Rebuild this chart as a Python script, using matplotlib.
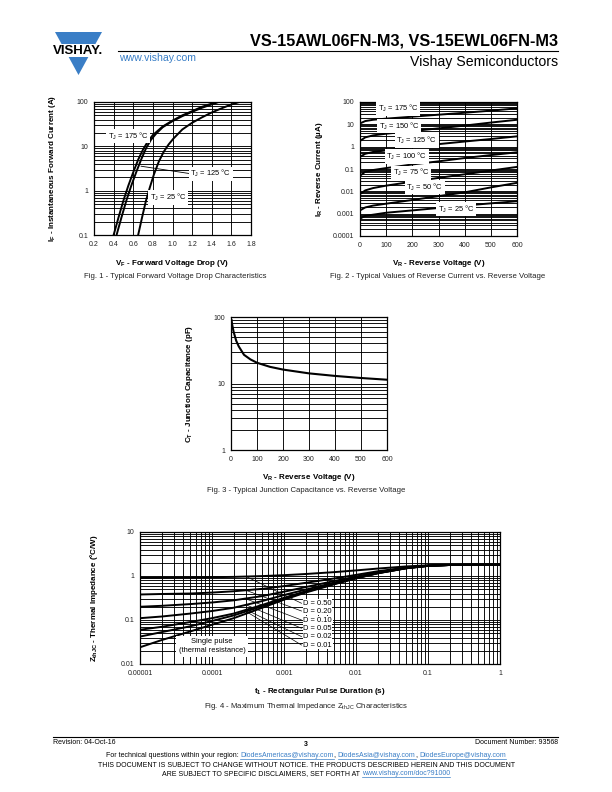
import matplotlib
matplotlib.use('Agg')
import numpy as np
import matplotlib.pyplot as plt
from matplotlib.ticker import LogLocator, FixedLocator, NullFormatter
from matplotlib.patches import Polygon, Rectangle
from matplotlib.lines import Line2D

plt.rcParams['font.family'] = ['Liberation Sans', 'DejaVu Sans']
plt.rcParams['mathtext.default'] = 'regular'

# ---- Fig. 1 forward voltage drop ----
vf_175 = [0.40, 0.45, 0.50, 0.55, 0.60, 0.65, 0.70, 0.75, 0.80, 0.90, 1.00, 1.10, 1.20, 1.30, 1.45]
if_175 = [0.1, 0.25, 0.6, 1.3, 2.6, 5.0, 8.5, 13, 18, 28, 38, 50, 62, 78, 100]
vf_125 = [0.43, 0.48, 0.53, 0.58, 0.63, 0.68, 0.73, 0.78, 0.83, 0.90, 1.00, 1.10, 1.20, 1.30, 1.47]
if_125 = [0.1, 0.25, 0.6, 1.3, 2.6, 5.0, 9.0, 14, 19, 27, 37, 48, 60, 74, 100]
vf_25 = [0.65, 0.69, 0.73, 0.77, 0.81, 0.86, 0.91, 0.96, 1.01, 1.10, 1.20, 1.30, 1.40, 1.50, 1.60, 1.68]
if_25 = [0.1, 0.25, 0.6, 1.2, 2.3, 4.5, 7.5, 11, 15, 24, 34, 45, 58, 72, 88, 100]

# ---- Fig. 2 reverse current ----
vr = [0, 20, 50, 100, 200, 300, 400, 500, 600]
ir = {
    '175': [11, 14, 16, 18, 22, 27, 33, 41, 52],
    '150': [1.8, 2.6, 3.2, 3.8, 5.0, 6.6, 8.8, 12, 16],
    '125': [0.35, 0.48, 0.58, 0.68, 0.95, 1.3, 1.7, 2.2, 2.9],
    '100': [0.05, 0.075, 0.09, 0.11, 0.16, 0.22, 0.31, 0.42, 0.56],
    '75': [0.0075, 0.011, 0.014, 0.018, 0.027, 0.040, 0.058, 0.085, 0.124],
    '50': [0.0014, 0.0019, 0.0023, 0.0028, 0.0041, 0.0061, 0.009, 0.015, 0.024],
    '25': [0.0006, 0.0008, 0.0009, 0.0011, 0.0014, 0.0018, 0.0023, 0.0029, 0.0036],
}
ir_label_pos = {'175': (69, 50), '150': (72, 8.5), '125': (139, 1.9), '100': (101, 0.37),
                '75': (126, 0.067), '50': (177, 0.0155), '25': (297, 0.0016)}

# ---- Fig. 3 junction capacitance ----
vr_c = [2, 5, 10, 20, 30, 50, 75, 100, 150, 200, 300, 400, 500, 600]
ct = [90, 75, 60, 44, 36, 27, 23, 20.5, 17.8, 16.2, 14.2, 13.0, 12.1, 11.4]

# ---- Fig. 4 thermal impedance ----
t1 = [1e-5, 2e-5, 5e-5, 1e-4, 2e-4, 5e-4, 1e-3, 2e-3, 5e-3, 1e-2, 2e-2, 5e-2, 0.1, 0.2, 0.5, 1]
zth = {
    '0.50': [0.91, 0.92, 0.93, 0.94, 0.955, 0.995, 1.045, 1.11, 1.225, 1.34, 1.475, 1.65, 1.75, 1.79, 1.8, 1.8],
    '0.20': [0.38, 0.39, 0.40, 0.42, 0.45, 0.51, 0.59, 0.70, 0.88, 1.06, 1.28, 1.56, 1.72, 1.78, 1.8, 1.8],
    '0.10': [0.20, 0.21, 0.23, 0.25, 0.28, 0.35, 0.44, 0.56, 0.77, 0.97, 1.22, 1.53, 1.71, 1.78, 1.8, 1.8],
    '0.05': [0.11, 0.12, 0.14, 0.16, 0.19, 0.27, 0.37, 0.49, 0.71, 0.93, 1.18, 1.52, 1.70, 1.78, 1.8, 1.8],
    '0.02': [0.06, 0.07, 0.09, 0.11, 0.14, 0.22, 0.32, 0.45, 0.67, 0.90, 1.16, 1.51, 1.70, 1.78, 1.8, 1.8],
    '0.01': [0.042, 0.053, 0.072, 0.095, 0.127, 0.206, 0.305, 0.434, 0.66, 0.89, 1.16, 1.50, 1.70, 1.78, 1.8, 1.8],
    'single': [0.024, 0.035, 0.055, 0.078, 0.11, 0.19, 0.29, 0.42, 0.65, 0.88, 1.15, 1.50, 1.70, 1.78, 1.8, 1.8],
}
d_labels = ['0.50', '0.20', '0.10', '0.05', '0.02', '0.01']
d_label_y = [0.24, 0.16, 0.10, 0.065, 0.042, 0.027]
d_leader_y = [0.97, 0.47, 0.30, 0.22, 0.17, 0.155]

W, H = 612, 792
fig = plt.figure(figsize=(W / 100, H / 100), dpi=100)
blue = '#3a7ec6'
GLW = 0.65
TICK = 5.0
LAB = 5.8


def px_axes(l, t, r, b):
    return fig.add_axes([l / W, 1 - b / H, (r - l) / W, (b - t) / H])


def style(ax, xlog=False):
    ax.set_yscale('log')
    if xlog:
        ax.set_xscale('log')
        ax.xaxis.set_minor_locator(LogLocator(base=10, subs=range(2, 10), numticks=20))
        ax.xaxis.set_minor_formatter(NullFormatter())
    ax.yaxis.set_minor_locator(LogLocator(base=10, subs=range(2, 10), numticks=20))
    ax.yaxis.set_minor_formatter(NullFormatter())
    ax.grid(True, which='major', color='black', lw=GLW)
    ax.grid(True, which='minor', axis='y', color='black', lw=GLW)
    if xlog:
        ax.grid(True, which='minor', axis='x', color='black', lw=GLW)
    ax.tick_params(which='both', length=0, labelsize=TICK, pad=4, colors='#222222')
    for s in ax.spines.values():
        s.set_linewidth(0.9)
    ax.set_axisbelow(True)


def tj_label(ax, x, y, s):
    ax.text(x, y, 'T$_J$ = ' + s + ' °C', fontsize=5.4, va='center', ha='left', zorder=6,
            bbox=dict(facecolor='white', edgecolor='none', pad=1.2))


# ---------------- Fig. 1 ----------------
ax1 = px_axes(94, 102, 251, 235)
style(ax1)
ax1.plot(vf_175, if_175, color='black', lw=1.4, zorder=4)
ax1.plot(vf_125, if_125, color='black', lw=1.4, zorder=4)
ax1.plot(vf_25, if_25, color='black', lw=1.4, zorder=4)
ax1.set_xlim(0.2, 1.8)
ax1.set_ylim(0.1, 100)
ax1.set_xticks([0.2, 0.4, 0.6, 0.8, 1.0, 1.2, 1.4, 1.6, 1.8])
ax1.set_xticklabels(['0.2', '0.4', '0.6', '0.8', '1.0', '1.2', '1.4', '1.6', '1.8'])
ax1.yaxis.set_major_locator(FixedLocator([0.1, 1, 10, 100]))
ax1.set_yticklabels(['0.1', '1', '10', '100'])
tj_label(ax1, 0.34, 17, '175')
tj_label(ax1, 1.18, 2.4, '125')
tj_label(ax1, 0.77, 0.71, '25')
ax1.plot([0.68, 1.17], [3.56, 2.44], color='black', lw=0.6, zorder=5)
ax1.set_xlabel('V$_F$ - Forward Voltage Drop (V)', fontsize=LAB, fontweight='bold')
ax1.set_ylabel('I$_F$ - Instantaneous Forward Current (A)', fontsize=LAB, fontweight='bold')
ax1.xaxis.set_label_coords(0.5, -0.17)
ax1.yaxis.set_label_coords(-0.23, 0.5)

# ---------------- Fig. 2 ----------------
ax2 = px_axes(360, 102, 517, 236)
style(ax2)
for k, vals in ir.items():
    ax2.plot(vr, vals, color='black', lw=1.4, zorder=4)
    tj_label(ax2, ir_label_pos[k][0], ir_label_pos[k][1], k)
ax2.set_xlim(0, 600)
ax2.set_ylim(0.0001, 100)
ax2.set_xticks([0, 100, 200, 300, 400, 500, 600])
ax2.yaxis.set_major_locator(FixedLocator([0.0001, 0.001, 0.01, 0.1, 1, 10, 100]))
ax2.set_yticklabels(['0.0001', '0.001', '0.01', '0.1', '1', '10', '100'])
ax2.set_xlabel('V$_R$ - Reverse Voltage (V)', fontsize=LAB, fontweight='bold')
ax2.set_ylabel('I$_R$ - Reverse Current (µA)', fontsize=LAB, fontweight='bold')
ax2.xaxis.set_label_coords(0.5, -0.165)
ax2.yaxis.set_label_coords(-0.225, 0.5)

# ---------------- Fig. 3 ----------------
ax3 = px_axes(231, 317, 387, 450)
style(ax3)
ax3.plot(vr_c, ct, color='black', lw=1.5, zorder=4)
ax3.set_xlim(0, 600)
ax3.set_ylim(1, 100)
ax3.set_xticks([0, 100, 200, 300, 400, 500, 600])
ax3.yaxis.set_major_locator(FixedLocator([1, 10, 100]))
ax3.set_yticklabels(['1', '10', '100'])
ax3.set_xlabel('V$_R$ - Reverse Voltage (V)', fontsize=LAB, fontweight='bold')
ax3.set_ylabel('C$_T$ - Junction Capacitance (pF)', fontsize=LAB, fontweight='bold')
ax3.xaxis.set_label_coords(0.5, -0.165)
ax3.yaxis.set_label_coords(-0.23, 0.5)

# ---------------- Fig. 4 ----------------
ax4 = px_axes(140, 532, 500, 664)
style(ax4, xlog=True)
for k, vals in zth.items():
    ax4.plot(t1, vals, color='black', lw=1.4, zorder=4)
for lab, ly, sy in zip(d_labels, d_label_y, d_leader_y):
    ax4.plot([3e-4, 1.75e-3], [sy, ly], color='black', lw=0.5, zorder=5)
    ax4.text(1.85e-3, ly, 'D = ' + lab, fontsize=5.4, va='center', ha='left', zorder=6,
             bbox=dict(facecolor='white', edgecolor='none', pad=0.5))
ax4.text(1e-4, 0.0256, 'Single pulse\n(thermal resistance)', fontsize=5.4, va='center',
         ha='center', zorder=6, linespacing=1.3,
         bbox=dict(facecolor='white', edgecolor='none', pad=2))
ax4.set_xlim(1e-5, 1)
ax4.set_ylim(0.01, 10)
ax4.xaxis.set_major_locator(FixedLocator([1e-5, 1e-4, 1e-3, 1e-2, 1e-1, 1]))
ax4.set_xticklabels(['0.00001', '0.0001', '0.001', '0.01', '0.1', '1'])
ax4.yaxis.set_major_locator(FixedLocator([0.01, 0.1, 1, 10]))
ax4.set_yticklabels(['0.01', '0.1', '1', '10'])
ax4.set_xlabel('t$_1$ - Rectangular Pulse Duration (s)', fontsize=LAB, fontweight='bold')
ax4.set_ylabel('Z$_{thJC}$ - Thermal Impedance (°C/W)', fontsize=LAB, fontweight='bold')
ax4.xaxis.set_label_coords(0.5, -0.167)
ax4.yaxis.set_label_coords(-0.11, 0.5)

# ---------------- captions ----------------
cap = 5.6
fig.text(175 / W, 1 - 276 / H, 'Fig. 1 - Typical Forward Voltage Drop Characteristics',
         fontsize=cap, ha='center', va='center', color='#222222')
fig.text(438 / W, 1 - 276 / H, 'Fig. 2 - Typical Values of Reverse Current vs. Reverse Voltage',
         fontsize=cap, ha='center', va='center', color='#222222')
fig.text(306 / W, 1 - 491 / H, 'Fig. 3 - Typical Junction Capacitance vs. Reverse Voltage',
         fontsize=cap, ha='center', va='center', color='#222222')
fig.text(306 / W, 1 - 706 / H, 'Fig. 4 - Maximum Thermal Impedance Z$_{thJC}$ Characteristics',
         fontsize=cap, ha='center', va='center', color='#222222')

# ---------------- header ----------------
fig.patches.append(Polygon([(55 / W, 1 - 32 / H), (102 / W, 1 - 32 / H), (78.5 / W, 1 - 75 / H)],
                           closed=True, facecolor=blue, edgecolor='none', transform=fig.transFigure))
fig.patches.append(Rectangle((50 / W, 1 - 57 / H), 56 / W, 13 / H, facecolor='white',
                             edgecolor='none', transform=fig.transFigure))
fig.text(78.5 / W, 1 - 50.5 / H, 'VISHAY.', fontsize=9.5, fontweight='bold', ha='center',
         va='center', color='black')
fig.text(558 / W, 1 - 41 / H, 'VS-15AWL06FN-M3, VS-15EWL06FN-M3', fontsize=11.7, fontweight='bold',
         ha='right', va='center', color='black')
fig.lines.append(Line2D([118 / W, 558 / W], [1 - 51 / H, 1 - 51 / H], color='black', lw=0.8,
                        transform=fig.transFigure))
fig.text(119 / W, 1 - 58 / H, 'www.vishay.com', fontsize=7.6, ha='left', va='center', color=blue)
fig.text(558 / W, 1 - 62 / H, 'Vishay Semiconductors', fontsize=10.2, ha='right', va='center',
         color='black')

# ---------------- footer ----------------
fs = 5.0
fig.lines.append(Line2D([53 / W, 558 / W], [1 - 737 / H, 1 - 737 / H], color='black', lw=0.8,
                        transform=fig.transFigure))
fig.text(53 / W, 1 - 743 / H, 'Revision: 04-Oct-16', fontsize=fs, ha='left', va='center')
fig.text(306 / W, 1 - 744 / H, '3', fontsize=fs, fontweight='bold', ha='center', va='center')
fig.text(558 / W, 1 - 743 / H, 'Document Number: 93568', fontsize=fs, ha='right', va='center')

renderer = fig.canvas.get_renderer()


def text_width(s):
    t = fig.text(0, 0, s + '.', fontsize=fs)
    w = t.get_window_extent(renderer).width
    t.remove()
    d = fig.text(0, 0, '.', fontsize=fs)
    wd = d.get_window_extent(renderer).width
    d.remove()
    return w - wd


def colored_line(ypx, parts):
    full = ''.join(p for p, _ in parts)
    total = text_width(full)
    x0 = W / 2 - total / 2
    prefix = ''
    for s, c in parts:
        x = x0 + (text_width(prefix) if prefix else 0)
        fig.text(x / W, 1 - ypx / H, s, fontsize=fs, color=c, ha='left', va='baseline')
        if c == blue:
            w = text_width(s)
            fig.lines.append(Line2D([x / W, (x + w) / W], [1 - (ypx + 1.5) / H, 1 - (ypx + 1.5) / H],
                                    color=blue, lw=0.5, transform=fig.transFigure))
        prefix += s


colored_line(757, [('For technical questions within your region: ', 'black'),
                   ('DiodesAmericas@vishay.com', blue), (', ', 'black'),
                   ('DiodesAsia@vishay.com', blue), (', ', 'black'),
                   ('DiodesEurope@vishay.com', blue)])
colored_line(767, [('THIS DOCUMENT IS SUBJECT TO CHANGE WITHOUT NOTICE. THE PRODUCTS DESCRIBED HEREIN AND THIS DOCUMENT', 'black')])
colored_line(775, [('ARE SUBJECT TO SPECIFIC DISCLAIMERS, SET FORTH AT ', 'black'),
                   ('www.vishay.com/doc?91000', blue)])

fig.savefig('out.png', dpi=100)
